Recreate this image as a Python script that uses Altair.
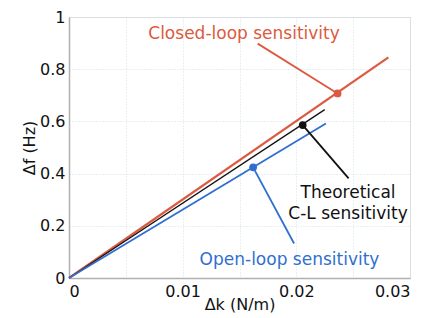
import altair as alt
import pandas as pd

# Lines from origin
series = ["Closed-loop", "Theoretical", "Open-loop"]
end_dk = [0.0281, 0.0225, 0.0226]
end_df = [0.845, 0.645, 0.592]
colors = ["#dc5a40", "#111111", "#2f6fd0"]
widths = [2.2, 1.3, 1.8]

# marker points
dot_dk = [0.02363, 0.02056, 0.0162]
dot_df = [0.707, 0.586, 0.424]

# annotation leader ends
lead_dk = [0.0166, 0.0246, 0.0198]
lead_df = [0.898, 0.382, 0.132]

# labels
label_text = ["Closed-loop sensitivity", "Theoretical", "C-L sensitivity", "Open-loop sensitivity"]
label_dk = [0.0154, 0.02455, 0.02455, 0.0194]
label_df = [0.936, 0.3245, 0.245, 0.068]
label_color = ["#dc5a40", "#111111", "#111111", "#2f6fd0"]

rows = []
for s, x1, y1, c, w in zip(series, end_dk, end_df, colors, widths):
    rows.append({"s": s, "x": 0.0, "y": 0.0, "c": c, "w": w})
    rows.append({"s": s, "x": x1, "y": y1, "c": c, "w": w})
lines_df = pd.DataFrame(rows)

lead_rows = pd.DataFrame({"s": series, "x": dot_dk, "y": dot_df,
                          "x2": lead_dk, "y2": lead_df, "c": colors})
lab = pd.DataFrame({"t": label_text, "x": label_dk, "y": label_df, "c": label_color})

xs = alt.Scale(domain=[0, 0.03], nice=False)
ys = alt.Scale(domain=[0, 1], nice=False)

xtick = [0, 0.005, 0.01, 0.015, 0.02, 0.025, 0.03]
ytick = [0, 0.2, 0.4, 0.6, 0.8, 1.0]

xaxis = alt.Axis(values=xtick, title="Δk (N/m)",
                 labelExpr="(round(datum.value*1000) % 10 == 0) ? (datum.value == 0 ? '0' : format(datum.value, '.2f')) : ''",
                 grid=True, gridDash=[1, 2], gridColor="#cfe0ea",
                 ticks=False, domainColor="#b0b0b0", domainWidth=1.5,
                 labelFontSize=16, titleFontSize=16, labelPadding=5, titlePadding=-3,
                 labelColor="#111", titleColor="#111", titleFontWeight="normal")
yaxis = alt.Axis(values=ytick, title="Δf (Hz)",
                 labelExpr="datum.value == 0 ? '0' : (datum.value == 1 ? '1' : format(datum.value, '.1f'))",
                 grid=True, gridDash=[1, 2], gridColor="#cfe0ea",
                 ticks=False, domainColor="#b0b0b0", domainWidth=1.5,
                 labelFontSize=16, titleFontSize=16, labelPadding=4, titlePadding=2,
                 labelColor="#111", titleColor="#111", titleFontWeight="normal")

base_lines = alt.Chart(lines_df).mark_line().encode(
    x=alt.X("x:Q", scale=xs, axis=xaxis),
    y=alt.Y("y:Q", scale=ys, axis=yaxis),
    detail="s:N",
    color=alt.Color("c:N", scale=None),
    strokeWidth=alt.StrokeWidth("w:Q", scale=None),
)

leaders = alt.Chart(lead_rows).mark_rule(strokeWidth=1.8).encode(
    x="x:Q", y="y:Q", x2="x2:Q", y2="y2:Q",
    color=alt.Color("c:N", scale=None),
)

dots = alt.Chart(lead_rows).mark_point(filled=True, size=60, opacity=1).encode(
    x="x:Q", y="y:Q", color=alt.Color("c:N", scale=None),
)

texts = alt.Chart(lab).mark_text(fontSize=17, font="DejaVu Sans").encode(
    x="x:Q", y="y:Q", text="t:N", color=alt.Color("c:N", scale=None),
)

chart = alt.layer(base_lines, leaders, dots, texts).properties(
    width=341, height=261,
    autosize=alt.AutoSizeParams(type="none"),
    padding={"left": 61, "top": 9, "right": 5, "bottom": 40},
    background="white",
).configure_view(stroke="#b0b0b0").configure(font="DejaVu Sans")

chart.save("out.html", embed_options={"renderer": "svg", "actions": False})
